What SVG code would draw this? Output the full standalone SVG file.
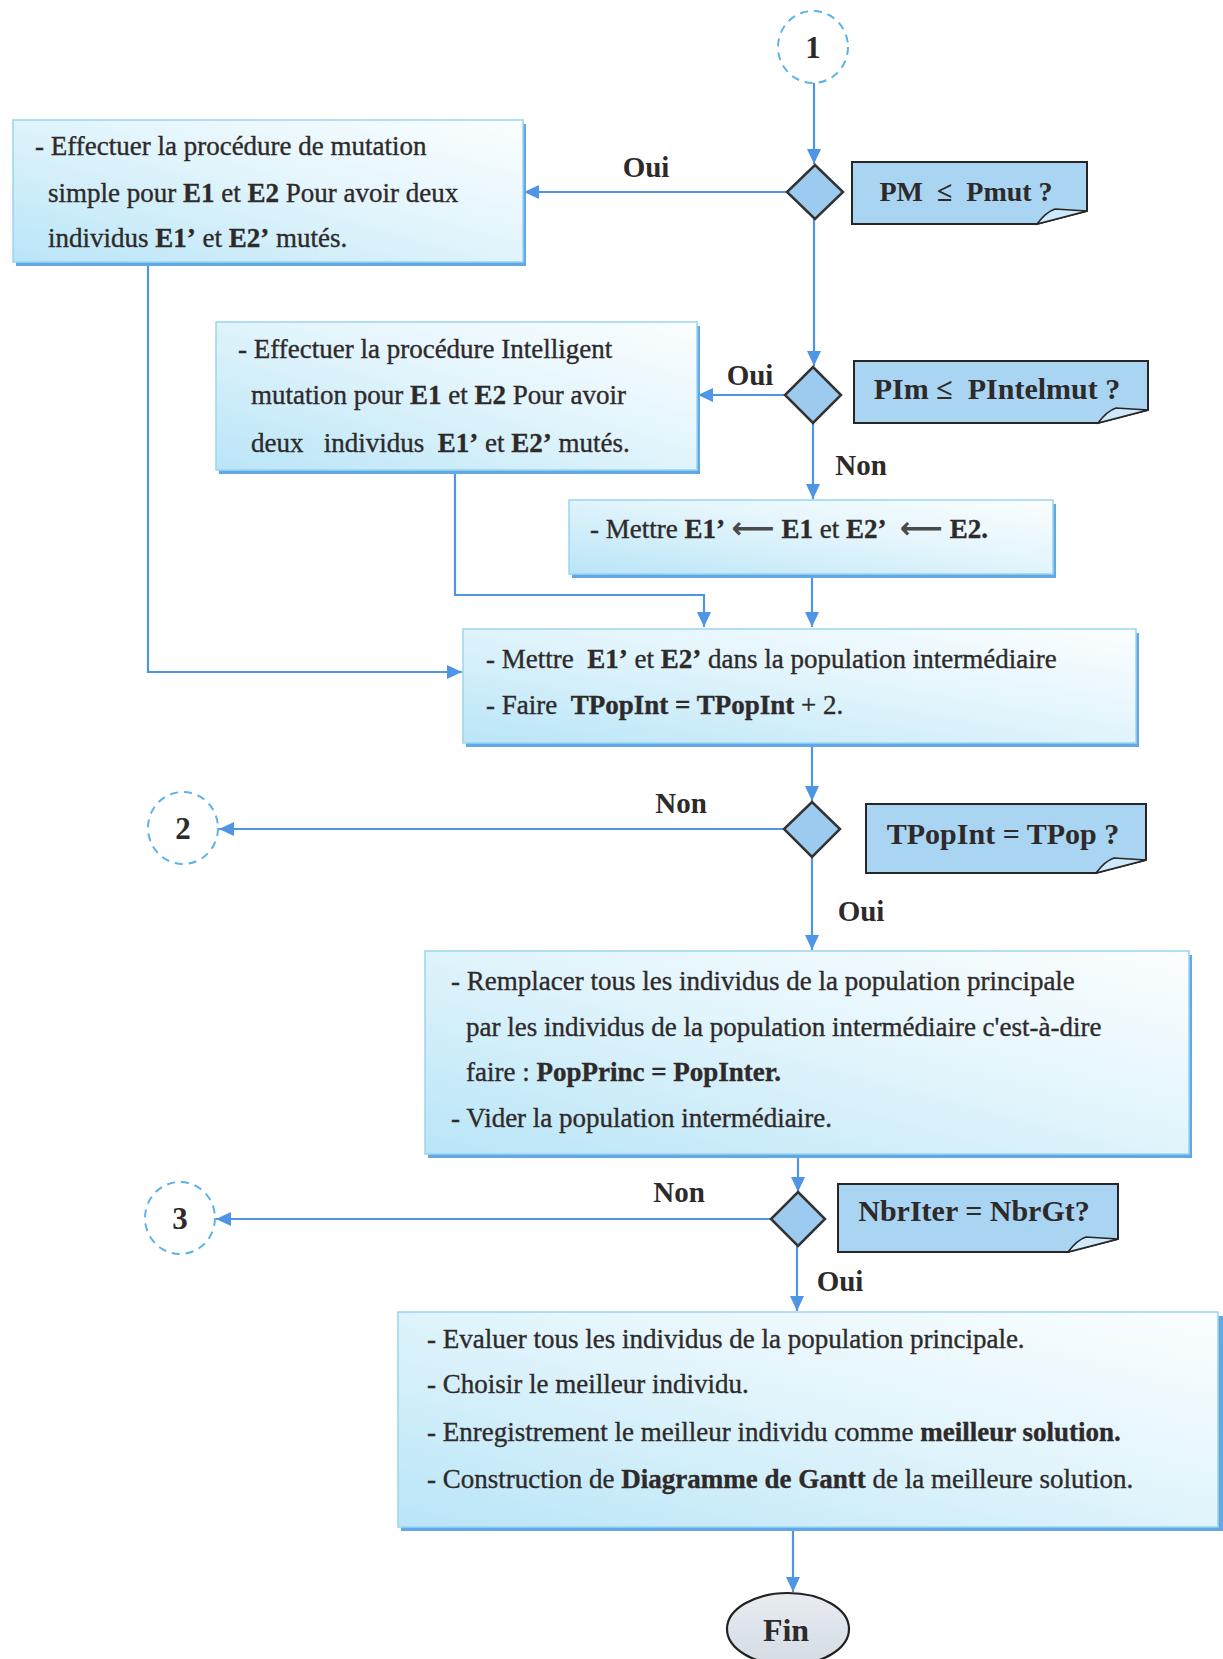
<svg xmlns="http://www.w3.org/2000/svg" width="1223" height="1659" viewBox="0 0 1223 1659">
  <defs>
    <linearGradient id="boxFill" x1="1" y1="0" x2="0" y2="1">
      <stop offset="0" stop-color="#fbfeff"/>
      <stop offset="0.45" stop-color="#e3f5fc"/>
      <stop offset="1" stop-color="#b9e5f7"/>
    </linearGradient>
    <linearGradient id="finFill" x1="0" y1="0" x2="0" y2="1">
      <stop offset="0" stop-color="#e9edf2"/>
      <stop offset="1" stop-color="#d3dbe4"/>
    </linearGradient>
    <marker id="arrow" markerUnits="userSpaceOnUse" markerWidth="16" markerHeight="14" refX="15" refY="7" orient="auto">
      <path d="M0,0 L15,7 L0,14 Z" fill="#4f95e6"/>
    </marker>
    <style>
      text { font-family: "Liberation Serif", "Times New Roman", serif; font-size: 27px; fill: #2e2a2a; }
      .t { stroke: #2e2a2a; stroke-width: 0.35px; }
      .b { font-weight: bold; }
      .lbl { font-weight: bold; text-anchor: middle; font-size: 29px; }
      .nt { font-weight: bold; text-anchor: middle; font-size: 30px; }
      .num { font-weight: bold; text-anchor: middle; font-size: 31px; }
      .arr { font-family: "DejaVu Sans", sans-serif; font-weight: bold; fill: #4a4a4a; stroke: none; font-size: 30px; }
      .box { fill: url(#boxFill); stroke: #9bd5f0; stroke-width: 1.5; }
      .shadow { fill: #62a8e4; }
      .note { fill: #a9d5f3; stroke: #262626; stroke-width: 2; stroke-linejoin: miter; }
      .fold { fill: #cfe8fa; stroke: #262626; stroke-width: 1.5; }
      .diamond { fill: #9ccbef; stroke: #333; stroke-width: 2.5; }
      .conn { fill: #ffffff; stroke: #5cb2ea; stroke-width: 2; stroke-dasharray: 8 6; }
      .link { fill: none; stroke: #4f95e6; stroke-width: 2.2; }
    </style>
  </defs>

  <rect width="1223" height="1659" fill="#ffffff"/>

  <!-- connectors -->
  <g id="connectors">
    <path class="link" d="M814,83 V164" marker-end="url(#arrow)"/>
    <path class="link" d="M787,192 H524" marker-end="url(#arrow)"/>
    <path class="link" d="M148,262 V672 H462" marker-end="url(#arrow)"/>
    <path class="link" d="M814,219 V366" marker-end="url(#arrow)"/>
    <path class="link" d="M785,395 H698" marker-end="url(#arrow)"/>
    <path class="link" d="M813,423 V499" marker-end="url(#arrow)"/>
    <path class="link" d="M455,470 V595 H704 V627" marker-end="url(#arrow)"/>
    <path class="link" d="M812,574 V627" marker-end="url(#arrow)"/>
    <path class="link" d="M812,747 V801" marker-end="url(#arrow)"/>
    <path class="link" d="M784,829 H219" marker-end="url(#arrow)"/>
    <path class="link" d="M812,857 V950" marker-end="url(#arrow)"/>
    <path class="link" d="M798,1158 V1192" marker-end="url(#arrow)"/>
    <path class="link" d="M771,1219 H216" marker-end="url(#arrow)"/>
    <path class="link" d="M797,1246 V1311" marker-end="url(#arrow)"/>
    <path class="link" d="M793,1531 V1592" marker-end="url(#arrow)"/>
  </g>

  <!-- branch labels -->
  <g id="labels">
    <text class="lbl" x="646" y="177">Oui</text>
    <text class="lbl" x="750" y="385">Oui</text>
    <text class="lbl" x="861" y="475">Non</text>
    <text class="lbl" x="681" y="813">Non</text>
    <text class="lbl" x="861" y="921">Oui</text>
    <text class="lbl" x="679" y="1202">Non</text>
    <text class="lbl" x="840" y="1291">Oui</text>
  </g>

  <!-- off-page connectors -->
  <g id="conn1">
    <ellipse class="conn" cx="813" cy="47" rx="35" ry="36"/>
    <text class="num" x="813" y="58">1</text>
  </g>
  <g id="conn2">
    <ellipse class="conn" cx="183" cy="828" rx="35" ry="36"/>
    <text class="num" x="183" y="839">2</text>
  </g>
  <g id="conn3">
    <ellipse class="conn" cx="180" cy="1218" rx="35" ry="36"/>
    <text class="num" x="180" y="1229">3</text>
  </g>

  <!-- decisions -->
  <g id="dec1">
    <polygon class="diamond" points="815,165 843,192 815,219 787,192"/>
  </g>
  <g id="note1">
    <path class="note" d="M852,162 H1087 V211 L1037,224 H852 Z"/>
    <path class="fold" d="M1037,224 Q1046,212 1055,209 L1087,211 Z"/>
    <text class="nt" x="966" y="201" style="font-size:28px" xml:space="preserve">PM  ≤  Pmut ?</text>
  </g>

  <g id="dec2">
    <polygon class="diamond" points="813,367 841,395 813,423 785,395"/>
  </g>
  <g id="note2">
    <path class="note" d="M854,361 H1148 V410 L1098,423 H854 Z"/>
    <path class="fold" d="M1098,423 Q1107,411 1116,408 L1148,410 Z"/>
    <text class="nt" x="997" y="399" xml:space="preserve">PIm ≤  PIntelmut ?</text>
  </g>

  <g id="dec3">
    <polygon class="diamond" points="812,802 840,829 812,857 784,829"/>
  </g>
  <g id="note3">
    <path class="note" d="M866,804 H1146 V860 L1096,873 H866 Z"/>
    <path class="fold" d="M1096,873 Q1105,861 1114,858 L1146,860 Z"/>
    <text class="nt" x="1003" y="844">TPopInt = TPop ?</text>
  </g>

  <g id="dec4">
    <polygon class="diamond" points="798,1192 825,1219 798,1246 771,1219"/>
  </g>
  <g id="note4">
    <path class="note" d="M838,1184 H1118 V1239 L1068,1252 H838 Z"/>
    <path class="fold" d="M1068,1252 Q1077,1240 1086,1237 L1118,1239 Z"/>
    <text class="nt" x="974" y="1221">NbrIter = NbrGt?</text>
  </g>

  <!-- process boxes -->
  <g id="mutSimple">
    <rect class="shadow" x="16" y="124" width="510" height="142"/>
    <rect class="box" x="13" y="120" width="510" height="142"/>
    <text class="t" x="35" y="155">- Effectuer la procédure de mutation</text>
    <text class="t" x="48" y="202">simple pour <tspan class="b">E1</tspan> et <tspan class="b">E2</tspan> Pour avoir deux</text>
    <text class="t" x="48" y="247">individus <tspan class="b">E1’</tspan> et <tspan class="b">E2’</tspan> mutés.</text>
  </g>

  <g id="mutIntel">
    <rect class="shadow" x="219" y="326" width="481" height="148"/>
    <rect class="box" x="216" y="322" width="481" height="148"/>
    <text class="t" x="238" y="358">- Effectuer la procédure Intelligent</text>
    <text class="t" x="251" y="404">mutation pour <tspan class="b">E1</tspan> et <tspan class="b">E2</tspan> Pour avoir</text>
    <text class="t" x="251" y="452" xml:space="preserve">deux   individus  <tspan class="b">E1’</tspan> et <tspan class="b">E2’</tspan> mutés.</text>
  </g>

  <g id="copy">
    <rect class="shadow" x="572" y="504" width="484" height="74"/>
    <rect class="box" x="569" y="500" width="484" height="74"/>
    <text class="t" x="590" y="538" xml:space="preserve">- Mettre <tspan class="b">E1’</tspan> <tspan class="arr">⟵</tspan> <tspan class="b">E1</tspan> et <tspan class="b">E2’</tspan>  <tspan class="arr">⟵</tspan> <tspan class="b">E2.</tspan></text>
  </g>

  <g id="insert">
    <rect class="shadow" x="466" y="633" width="673" height="114"/>
    <rect class="box" x="463" y="629" width="673" height="114"/>
    <text class="t" x="486" y="668" xml:space="preserve">- Mettre  <tspan class="b">E1’</tspan> et <tspan class="b">E2’</tspan> dans la population intermédiaire</text>
    <text class="t" x="486" y="714" xml:space="preserve">- Faire  <tspan class="b">TPopInt = TPopInt</tspan> + 2.</text>
  </g>

  <g id="replace">
    <rect class="shadow" x="428" y="955" width="764" height="203"/>
    <rect class="box" x="425" y="951" width="764" height="203"/>
    <text class="t" x="451" y="990">- Remplacer tous les individus de la population principale</text>
    <text class="t" x="466" y="1036">par les individus de la population intermédiaire c'est-à-dire</text>
    <text class="t" x="466" y="1081">faire : <tspan class="b">PopPrinc = PopInter.</tspan></text>
    <text class="t" x="451" y="1127">- Vider la population intermédiaire.</text>
  </g>

  <g id="final">
    <rect class="shadow" x="401" y="1316" width="822" height="215"/>
    <rect class="box" x="398" y="1312" width="820" height="215"/>
    <text class="t" x="427" y="1348">- Evaluer tous les individus de la population principale.</text>
    <text class="t" x="427" y="1393">- Choisir le meilleur individu.</text>
    <text class="t" x="427" y="1441">- Enregistrement le meilleur individu comme <tspan class="b">meilleur solution.</tspan></text>
    <text class="t" x="427" y="1488">- Construction de <tspan class="b">Diagramme de Gantt</tspan> de la meilleure solution.</text>
  </g>

  <g id="fin">
    <ellipse cx="788" cy="1629" rx="61" ry="36" fill="url(#finFill)" stroke="#222" stroke-width="2.2"/>
    <text class="nt" x="786" y="1641" style="font-size:32px">Fin</text>
  </g>
</svg>
